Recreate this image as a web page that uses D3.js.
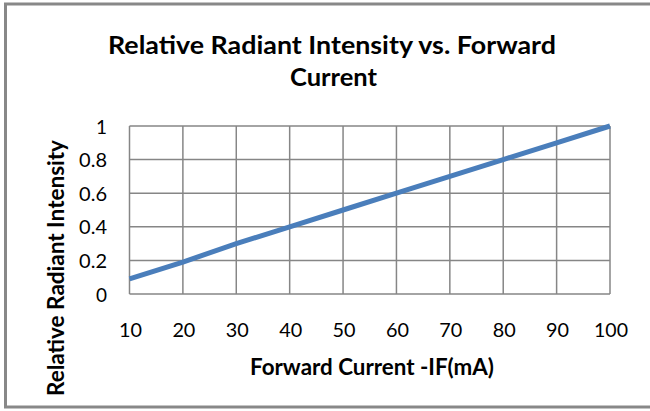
<!DOCTYPE html>
<html><head><meta charset="utf-8">
<script src="https://cdn.jsdelivr.net/npm/d3@7"></script>
<style>html,body{margin:0;padding:0;background:#fff;}svg{display:block;}</style>
</head><body>
<script>
const currents = [10, 20, 30, 40, 50, 60, 70, 80, 90, 100];
const intensity = [0.09, 0.19, 0.3, 0.4, 0.5, 0.6, 0.7, 0.8, 0.9, 1.0];
const yTicks = [0, 0.2, 0.4, 0.6, 0.8, 1];
const xTicks = [10, 20, 30, 40, 50, 60, 70, 80, 90, 100];
const titleLines = ["Relative  Radiant Intensity vs. Forward", "Current"];
const xTitle = "Forward Current -IF(mA)";
const yTitle = "Relative Radiant Intensity";

const W = 650, H = 411;
const font = "Lato, 'Open Sans', sans-serif";
const svg = d3.select("body").append("svg").attr("width", W).attr("height", H);

svg.append("rect").attr("x", 5.5).attr("y", 4).attr("width", 660).attr("height", 403)
  .attr("fill", "#fff").attr("stroke", "#888").attr("stroke-width", 3);

const m = {l: 129.5, r: 610, t: 126, b: 294};
const x = d3.scaleLinear().domain([10, 100]).range([m.l, m.r]);
const y = d3.scaleLinear().domain([0, 1]).range([m.b, m.t]);

const grid = svg.append("g").attr("stroke", "#868686").attr("stroke-width", 1.5);
grid.selectAll(".h").data(yTicks).enter().append("line")
  .attr("x1", m.l).attr("x2", m.r).attr("y1", d => y(d)).attr("y2", d => y(d));
grid.selectAll(".v").data(xTicks).enter().append("line")
  .attr("y1", m.t).attr("y2", m.b).attr("x1", d => x(d)).attr("x2", d => x(d));

function fit(sel, w) {
  sel.each(function() {
    const L = this.getComputedTextLength();
    if (L > w) d3.select(this).attr("textLength", w).attr("lengthAdjust", "spacingAndGlyphs");
  });
}
function setLen(sel, w) {
  sel.attr("textLength", w).attr("lengthAdjust", "spacingAndGlyphs");
}

svg.append("g").selectAll("text").data(yTicks).enter().append("text")
  .attr("x", 107).attr("y", d => y(d) + 7.5).attr("text-anchor", "end")
  .attr("font-family", font).attr("font-size", 20).attr("fill", "#000")
  .text(d => d3.format("")(d))
  .each(function(d) { fit(d3.select(this), String(d).length === 1 ? 11 : 29); });

svg.append("g").selectAll("text").data(xTicks).enter().append("text")
  .attr("x", d => x(d) + 1).attr("y", 337).attr("text-anchor", "middle")
  .attr("font-family", font).attr("font-size", 20).attr("fill", "#000")
  .text(d => d)
  .each(function(d) { fit(d3.select(this), String(d).length === 3 ? 34 : 23); });

const line = d3.line().x((d, i) => x(currents[i])).y(d => y(d));
svg.append("path").datum(intensity).attr("d", line).attr("fill", "none")
  .attr("stroke", "#4a7ebb").attr("stroke-width", 5).attr("stroke-linecap", "butt");

const tt = svg.append("g").attr("font-family", font).attr("font-weight", "bold")
  .attr("font-size", 24).attr("text-anchor", "middle").attr("fill", "#000");
tt.append("text").attr("x", 332).attr("y", 54).text(titleLines[0]).call(setLen, 448);
tt.append("text").attr("x", 333.5).attr("y", 86).text(titleLines[1]).call(setLen, 87);

svg.append("text").attr("x", 372).attr("y", 375).attr("text-anchor", "middle")
  .attr("font-family", font).attr("font-weight", "bold").attr("font-size", 22)
  .text(xTitle).call(setLen, 244);

svg.append("text").attr("transform", "translate(64,268) rotate(-90)").attr("text-anchor", "middle")
  .attr("font-family", font).attr("font-weight", "bold").attr("font-size", 22)
  .text(yTitle).call(setLen, 256);
</script>
</body></html>
